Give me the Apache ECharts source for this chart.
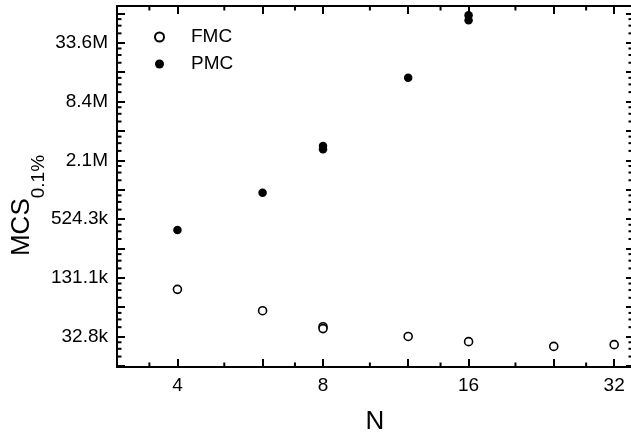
<!DOCTYPE html>
<html><head><meta charset="utf-8">
<script src="https://cdn.jsdelivr.net/npm/echarts@6/dist/echarts.min.js"></script>
<style>html,body{margin:0;padding:0;background:#fff}#c{width:631px;height:436px}</style>
</head><body><div id="c"></div>
<script>
// ---- data ----
const fmcN   = [4, 6, 8, 8, 12, 16, 24, 32];
const fmcMCS = [100000, 60400, 41400, 39600, 32900, 29100, 26000, 27100];
const pmcN   = [4, 6, 8, 8, 12, 16, 16];
const pmcMCS = [406000, 977000, 2940000, 2730000, 14700000, 64300000, 57200000];

const xTickValues = [4, 8, 16, 32];
const xTickLabels = ['4', '8', '16', '32'];
const xMajorTickValues = [4, 6, 8, 12, 16, 24, 32];
const xMinorTickValues = [3.5, 5, 7, 10, 14, 20, 28];

const yTickValues = [32768, 131072, 524288, 2097152, 8388608, 33554432];
const yTickLabels = ['32.8k', '131.1k', '524.3k', '2.1M', '8.4M', '33.6M'];
const yMajorTickValues = [16384, 32768, 65536, 131072, 262144, 524288, 1048576, 2097152,
  4194304, 8388608, 16777216, 33554432, 67108864];
const yMinorFactors = [1.25, 1.5, 1.75];

const xMin = 3, xMax = 35, yMin = 16000, yMax = 80000000;

// ---- helpers ----
const FONT = 'Liberation Sans, Arial, Helvetica, sans-serif';
function nearestLabel(v, vals, labels) {
  let best = -1, bd = Infinity;
  vals.forEach((t, i) => { const d = Math.abs(Math.log(v) - Math.log(t)); if (d < bd) { bd = d; best = i; } });
  return bd < 1e-3 ? labels[best] : '';
}
const yMinorTickValues = [];
yMajorTickValues.concat([8192]).forEach(p => yMinorFactors.forEach(f => {
  const v = p * f; if (v > yMin && v < yMax) yMinorTickValues.push(v);
}));

const chart = echarts.init(document.getElementById('c'), null, {renderer: 'canvas'});
const lineStyle = {color: '#000', width: 2};

function minorTickSeries(kind) {
  const data = kind === 'x'
    ? xMinorTickValues.map(v => [v, 32768])
    : yMinorTickValues.map(v => [4, v]);
  return {
    type: 'custom', silent: true, z: 1, clip: false,
    xAxisIndex: 0, yAxisIndex: 0,
    data: data,
    renderItem: function (params, api) {
      const cs = params.coordSys;
      const pt = api.coord([api.value(0), api.value(1)]);
      const st = {stroke: '#000', lineWidth: 2};
      const L = 4.5;
      if (kind === 'x') {
        const x = pt[0], yb = cs.y + cs.height, yt = cs.y;
        return {type: 'group', children: [
          {type: 'line', shape: {x1: x, y1: yb, x2: x, y2: yb - L}, style: st},
          {type: 'line', shape: {x1: x, y1: yt, x2: x, y2: yt + L}, style: st}
        ]};
      } else {
        const y = pt[1], xl = cs.x, xr = cs.x + cs.width;
        return {type: 'group', children: [
          {type: 'line', shape: {x1: xl, y1: y, x2: xl + L, y2: y}, style: st},
          {type: 'line', shape: {x1: xr, y1: y, x2: xr - L, y2: y}, style: st}
        ]};
      }
    }
  };
}

const option = {
  backgroundColor: '#fff',
  animation: false,
  textStyle: {fontFamily: FONT, color: '#000'},
  grid: {left: 117, right: -2, top: 6, bottom: 69, containLabel: false, outerBoundsMode: 'none'},
  legend: {
    orient: 'vertical', left: 154, top: 26, padding: 0, itemGap: 5,
    itemWidth: 9, itemHeight: 9,
    data: ['FMC', 'PMC'],
    textStyle: {fontSize: 19, fontFamily: FONT, color: '#000', lineHeight: 22, padding: [0, 0, 0, 22]}
  },
  xAxis: [{
    type: 'log', logBase: 2, min: xMin, max: xMax, position: 'bottom',
    name: 'N', nameLocation: 'middle', nameGap: 42, nameMoveOverlap: false,
    nameTextStyle: {fontSize: 26, fontFamily: FONT, color: '#000'},
    axisLine: {show: true, lineStyle: lineStyle},
    axisTick: {show: true, inside: true, length: 8, lineStyle: {width: 2, color: '#000'}, customValues: xMajorTickValues},
    axisLabel: {show: true, margin: 9, fontSize: 19, fontFamily: FONT, color: '#000',
      customValues: xTickValues,
      formatter: v => nearestLabel(v, xTickValues, xTickLabels)},
    splitLine: {show: false}, minorTick: {show: false}
  }, {
    type: 'log', logBase: 2, min: xMin, max: xMax, position: 'top',
    axisLine: {show: true, lineStyle: lineStyle},
    axisTick: {show: true, inside: true, length: 8, lineStyle: {width: 2, color: '#000'}, customValues: xMajorTickValues},
    axisLabel: {show: false}, splitLine: {show: false}
  }],
  yAxis: [{
    type: 'log', logBase: 2, min: yMin, max: yMax, position: 'left',
    name: '{a|MCS}{b|0.1%}', nameLocation: 'middle', nameGap: 69, nameRotate: 90, nameMoveOverlap: false,
    nameTextStyle: {
      fontFamily: FONT, color: '#000', padding: [0, 38, 0, 0],
      rich: {
        a: {fontSize: 26, fontFamily: FONT, color: '#000'},
        b: {fontSize: 19, fontFamily: FONT, color: '#000', padding: [34, 0, 0, 0]}
      }
    },
    axisLine: {show: true, lineStyle: lineStyle},
    axisTick: {show: true, inside: true, length: 8, lineStyle: {width: 2, color: '#000'}, customValues: yMajorTickValues},
    axisLabel: {show: true, margin: 9, fontSize: 19, fontFamily: FONT, color: '#000',
      customValues: yTickValues,
      formatter: v => nearestLabel(v, yTickValues, yTickLabels)},
    splitLine: {show: false}, minorTick: {show: false}
  }, {
    type: 'log', logBase: 2, min: yMin, max: yMax, position: 'right',
    axisLine: {show: false},
    axisTick: {show: true, inside: true, length: 7, lineStyle: {width: 2, color: '#000'}, customValues: yMajorTickValues},
    axisLabel: {show: false}, splitLine: {show: false}
  }],
  series: [
    minorTickSeries('x'),
    minorTickSeries('y'),
    {
      name: 'FMC', type: 'scatter', symbol: 'circle', symbolSize: 8, z: 5,
      xAxisIndex: 0, yAxisIndex: 0,
      itemStyle: {color: '#fff', borderColor: '#000', borderWidth: 1.6, opacity: 1},
      data: fmcN.map((n, i) => [n, fmcMCS[i]])
    },
    {
      name: 'PMC', type: 'scatter', symbol: 'circle', symbolSize: 8.5, z: 5,
      xAxisIndex: 0, yAxisIndex: 0,
      itemStyle: {color: '#000', opacity: 1},
      data: pmcN.map((n, i) => [n, pmcMCS[i]])
    }
  ]
};
chart.setOption(option);
</script>
</body></html>
